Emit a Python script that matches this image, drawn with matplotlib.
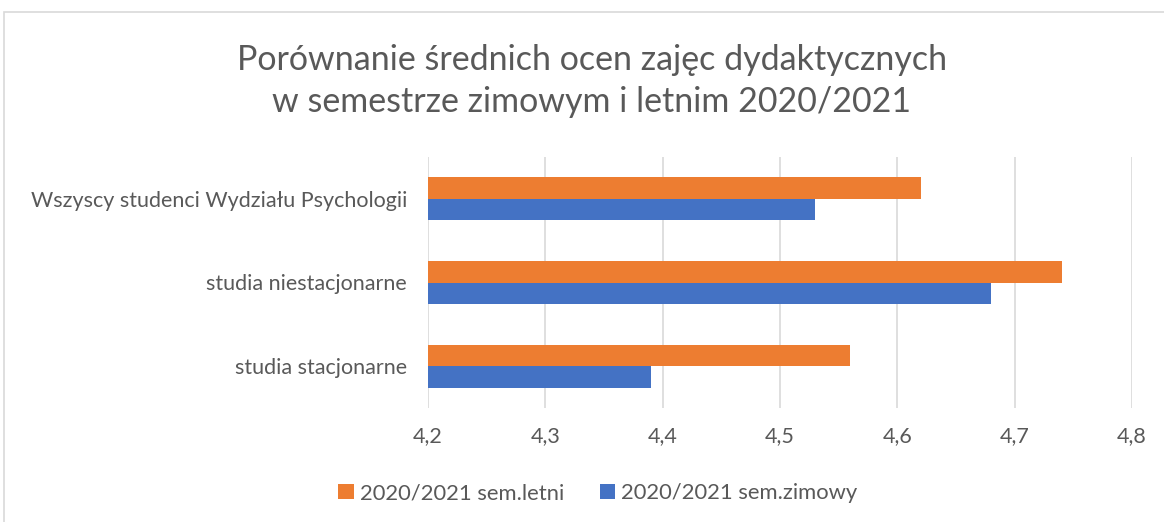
import matplotlib
matplotlib.use("Agg")
import matplotlib.pyplot as plt
import numpy as np
from matplotlib.patches import Rectangle

categories = ["studia stacjonarne", "studia niestacjonarne", "Wszyscy studenci Wydziału Psychologii"]
letni = [4.56, 4.74, 4.62]
zimowy = [4.39, 4.68, 4.53]
series_names = ["2020/2021 sem.letni", "2020/2021 sem.zimowy"]
xticks = [4.2, 4.3, 4.4, 4.5, 4.6, 4.7, 4.8]
title = "Porównanie średnich ocen zajęc dydaktycznych\nw semestrze zimowym i letnim 2020/2021"

plt.rcParams['font.family'] = ['Lato', 'DejaVu Sans']
txt = '#595959'
c_orange = '#ED7D31'
c_blue = '#4472C4'

fig = plt.figure(figsize=(11.64, 5.22), dpi=100)
fig.patches.append(Rectangle((4/1164, -0.1), 1.2, (522-12)/522 + 0.1, transform=fig.transFigure,
                             fill=False, edgecolor='#D9D9D9', linewidth=1.2, zorder=0))

ax = fig.add_axes([428/1164, 1-408/522, (1132-428)/1164, (408-157)/522])
y = np.arange(len(categories))
h = 0.256
ax.barh(y + h/2, letni, height=h, color=c_orange, label=series_names[0], zorder=3)
ax.barh(y - h/2, zimowy, height=h, color=c_blue, label=series_names[1], zorder=3)
ax.set_xlim(4.2, 4.8)
ax.set_ylim(-0.5, 2.5)
ax.set_xticks(xticks)
ax.set_xticklabels([f"{v:.1f}".replace('.', ',') for v in xticks])
ax.set_yticks(y)
ax.set_yticklabels(categories)
ax.tick_params(axis='both', length=0, labelsize=15.5, colors=txt)
ax.tick_params(axis='x', pad=13)
ax.tick_params(axis='y', pad=15)
ax.grid(axis='x', color='#D9D9D9', linewidth=1.2, zorder=0)
for s in ax.spines.values():
    s.set_visible(False)

fig.text(592/1164, 1-81/522, title, ha='center', va='center', fontsize=24.5, color=txt, linespacing=1.4)

handles, labels = ax.get_legend_handles_labels()
fig.legend(handles, labels, loc='center', bbox_to_anchor=(598/1164, 1-493/522), ncol=2, frameon=False,
           fontsize=15.8, labelcolor=txt, handlelength=0.7, handleheight=0.7, handletextpad=0.3,
           columnspacing=1.6)

fig.savefig("out.png", dpi=100)
